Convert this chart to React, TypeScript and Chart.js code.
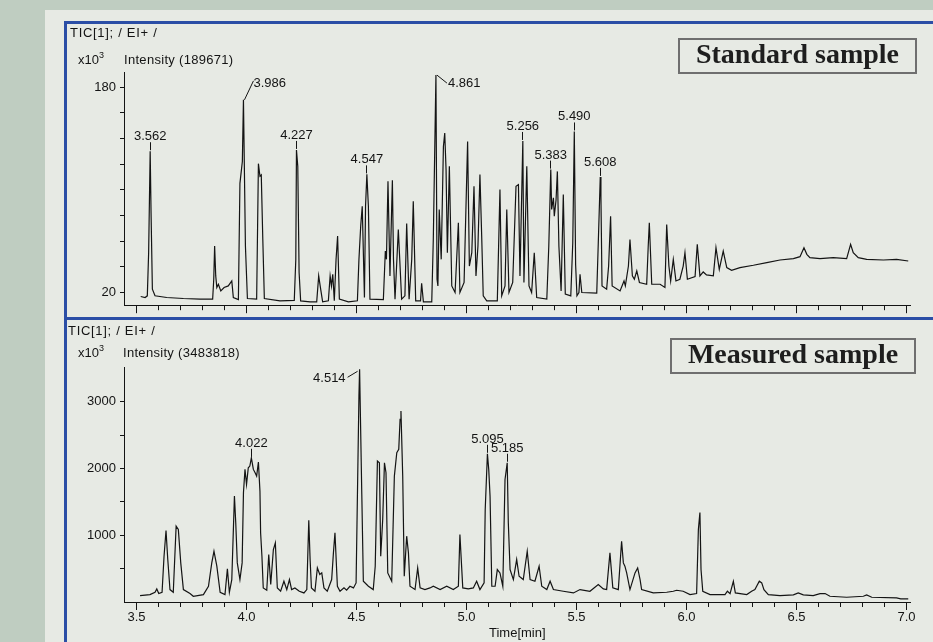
import React, { useEffect, useRef } from "react";
import { Chart, registerables } from "chart.js";

Chart.register(...registerables);

const FONT = '"Liberation Sans", Arial, Helvetica, sans-serif';
const SERIF = '"Liberation Serif", "Times New Roman", serif';
const INK = "#141414";
const BLUE = "#2b4ea6";

// ---- axis ranges and tick labels ----
const timeRange = [3.443, 7.016];
const standardRange = [10.1, 191.7];
const measuredRange = [0, 3520];
const timeTickLabels = [3.5, 4.0, 4.5, 5.0, 5.5, 6.0, 6.5, 7.0];
const standardTickValues = [20, 40, 60, 80, 100, 120, 140, 160, 180];
const standardTickLabels = [20, 180];
const measuredTickValues = [500, 1000, 1500, 2000, 2500, 3000];
const measuredTickLabels = [1000, 2000, 3000];

// ---- Standard sample TIC: [time (min), intensity (x10^3)] ----
const standardTrace: [number, number][] = [
  [3.519, 16.9], [3.539, 16.1], [3.549, 17.4], [3.555, 51], [3.562, 130], [3.566, 82], [3.572, 22.6],
  [3.584, 17.4], [3.637, 16.1], [3.713, 15.3], [3.789, 14.8], [3.846, 14.8], [3.851, 30.3], [3.855, 56.2],
  [3.86, 32.9], [3.865, 23.9], [3.872, 26.4], [3.883, 21.2], [3.898, 23.9], [3.917, 25.1], [3.933, 29],
  [3.94, 16.1], [3.963, 14.5], [3.97, 105], [3.981, 122], [3.986, 170], [3.995, 56], [4.004, 15.3],
  [4.046, 14.8], [4.054, 120.3], [4.061, 110.5], [4.067, 111.5], [4.074, 61.3], [4.081, 15.3], [4.152, 13.5],
  [4.217, 13.8], [4.224, 45.8], [4.227, 131], [4.233, 118.2], [4.239, 35.5], [4.246, 13.5], [4.289, 12.7],
  [4.319, 12.7], [4.328, 32.9], [4.337, 22.6], [4.346, 12.7], [4.372, 13.5], [4.38, 32.9], [4.386, 25.1],
  [4.392, 34.2], [4.399, 13.5], [4.407, 45.8], [4.414, 63.9], [4.422, 14.8], [4.463, 12.7], [4.504, 13.5],
  [4.511, 45.8], [4.519, 71.7], [4.526, 87.2], [4.536, 16.1], [4.541, 87.2], [4.547, 112], [4.554, 87],
  [4.561, 14.8], [4.622, 14.5], [4.631, 52.3], [4.636, 45.8], [4.643, 106.6], [4.652, 32.9], [4.663, 107.4],
  [4.668, 45.8], [4.675, 14.8], [4.69, 69.1], [4.705, 14.8], [4.72, 17.4], [4.728, 73.8], [4.739, 14.8],
  [4.751, 45.8], [4.758, 91], [4.769, 13.5], [4.791, 13.5], [4.796, 27.2], [4.804, 12.7], [4.842, 12.7],
  [4.849, 61.3], [4.861, 189.3], [4.866, 30.3], [4.87, 25.1], [4.876, 84.6], [4.885, 45.8], [4.895, 133.7],
  [4.901, 144.1], [4.907, 115.7], [4.913, 51], [4.922, 118.2], [4.933, 25.1], [4.948, 20], [4.963, 74.3],
  [4.97, 20], [4.989, 27.8], [5.005, 137.6], [5.013, 40.6], [5.024, 51], [5.034, 102.7], [5.043, 32.9],
  [5.052, 56.2], [5.061, 111.8], [5.069, 63.9], [5.076, 17.4], [5.092, 13.5], [5.14, 13.5], [5.152, 100.1],
  [5.16, 17.4], [5.175, 25.1], [5.183, 84.6], [5.193, 20], [5.21, 27.8], [5.225, 102.7], [5.236, 104],
  [5.243, 32.9], [5.256, 138], [5.261, 27.8], [5.274, 118.2], [5.284, 25.1], [5.296, 20], [5.308, 51],
  [5.319, 16.1], [5.365, 14.8], [5.374, 56], [5.383, 115.7], [5.387, 84.6], [5.395, 93.7], [5.399, 79.4],
  [5.407, 92], [5.413, 114.3], [5.42, 56], [5.43, 21.2], [5.44, 96.3], [5.449, 18.7], [5.474, 17.4],
  [5.483, 58.8], [5.49, 145.4], [5.496, 41.6], [5.502, 17.4], [5.511, 20], [5.516, 34.2], [5.524, 20],
  [5.592, 19.5], [5.599, 58.8], [5.608, 110], [5.611, 95], [5.616, 25.1], [5.637, 22.6], [5.646, 40.6],
  [5.655, 79.4], [5.662, 25.1], [5.698, 21.2], [5.716, 29], [5.722, 25.1], [5.736, 40.6], [5.743, 61.3],
  [5.754, 32.9], [5.763, 30.3], [5.774, 36.8], [5.786, 27.8], [5.819, 26.4], [5.826, 56], [5.831, 74.3],
  [5.842, 26.4], [5.88, 26.4], [5.902, 23.9], [5.91, 73], [5.92, 40.6], [5.928, 29], [5.94, 45.8],
  [5.952, 29], [5.97, 30.3], [5.985, 40.6], [5.993, 51], [6.004, 30.3], [6.039, 32.4], [6.049, 57.5],
  [6.061, 32.9], [6.076, 36], [6.091, 33.7], [6.122, 32.9], [6.134, 54.9], [6.149, 38], [6.167, 52.3],
  [6.183, 39.4], [6.205, 37.3], [6.243, 39.4], [6.304, 41.2], [6.365, 43.3], [6.425, 45.3], [6.486, 46.4],
  [6.516, 47.9], [6.534, 54.9], [6.547, 49.7], [6.561, 47.1], [6.607, 46.4], [6.667, 47.1], [6.728, 46.4],
  [6.746, 57.5], [6.758, 51], [6.781, 47.1], [6.819, 45.8], [6.895, 45.3], [6.955, 45.8], [7.008, 44.5],
];

// ---- Measured sample TIC: [time (min), intensity (x10^3)] ----
const measuredTrace: [number, number][] = [
  [3.516, 96], [3.561, 111], [3.584, 146], [3.592, 196], [3.601, 126], [3.616, 146], [3.625, 686],
  [3.634, 1071], [3.642, 636], [3.652, 186], [3.667, 146], [3.68, 1136], [3.69, 1086], [3.701, 586],
  [3.713, 186], [3.743, 126], [3.758, 86], [3.804, 111], [3.827, 236], [3.842, 586], [3.852, 761],
  [3.865, 536], [3.88, 146], [3.902, 111], [3.913, 496], [3.922, 146], [3.933, 336], [3.945, 1586],
  [3.951, 1186], [3.958, 586], [3.97, 336], [3.98, 586], [3.986, 1636], [3.993, 1986], [4.0, 1761],
  [4.008, 2011], [4.015, 2036], [4.022, 2160], [4.031, 1986], [4.039, 1936], [4.046, 1886], [4.054, 2096],
  [4.061, 1661], [4.064, 1036], [4.07, 686], [4.076, 211], [4.092, 176], [4.101, 711], [4.11, 261],
  [4.122, 786], [4.131, 886], [4.14, 211], [4.155, 161], [4.17, 311], [4.183, 186], [4.195, 336],
  [4.205, 186], [4.22, 211], [4.24, 161], [4.261, 136], [4.274, 186], [4.283, 1226], [4.289, 636],
  [4.295, 211], [4.311, 161], [4.322, 511], [4.333, 411], [4.342, 436], [4.352, 211], [4.367, 161],
  [4.387, 336], [4.395, 736], [4.402, 1036], [4.413, 236], [4.425, 161], [4.443, 211], [4.455, 176],
  [4.47, 236], [4.486, 211], [4.498, 286], [4.511, 3086], [4.514, 3486], [4.524, 1611], [4.531, 311],
  [4.554, 236], [4.576, 186], [4.585, 536], [4.595, 2111], [4.604, 2086], [4.61, 686], [4.619, 1236],
  [4.627, 2086], [4.634, 1936], [4.642, 436], [4.66, 311], [4.672, 1886], [4.683, 2236], [4.692, 2286],
  [4.698, 2736], [4.702, 2861], [4.71, 1886], [4.717, 386], [4.728, 986], [4.736, 736], [4.743, 236],
  [4.766, 186], [4.778, 511], [4.789, 211], [4.811, 186], [4.834, 211], [4.849, 236], [4.88, 186],
  [4.91, 236], [4.94, 186], [4.963, 236], [4.97, 1011], [4.983, 211], [5.008, 196], [5.031, 211],
  [5.046, 311], [5.061, 186], [5.08, 286], [5.085, 1386], [5.095, 2220], [5.101, 1986], [5.107, 1586],
  [5.115, 236], [5.13, 236], [5.14, 486], [5.152, 436], [5.165, 236], [5.175, 1836], [5.185, 2086],
  [5.19, 1186], [5.198, 486], [5.213, 336], [5.228, 636], [5.239, 386], [5.258, 336], [5.276, 761],
  [5.289, 336], [5.311, 311], [5.33, 536], [5.342, 236], [5.365, 186], [5.38, 311], [5.395, 186],
  [5.44, 161], [5.486, 136], [5.516, 186], [5.561, 161], [5.599, 261], [5.622, 196], [5.637, 186],
  [5.652, 736], [5.665, 211], [5.69, 186], [5.705, 911], [5.713, 586], [5.72, 536], [5.728, 436],
  [5.743, 186], [5.766, 436], [5.778, 511], [5.789, 336], [5.796, 186], [5.849, 136], [5.91, 146],
  [5.94, 161], [5.955, 176], [5.985, 161], [6.016, 111], [6.046, 126], [6.054, 1086], [6.061, 1341],
  [6.066, 486], [6.074, 161], [6.107, 111], [6.175, 111], [6.186, 161], [6.198, 126], [6.213, 311],
  [6.222, 136], [6.274, 111], [6.296, 161], [6.311, 186], [6.331, 311], [6.342, 286], [6.352, 186],
  [6.372, 111], [6.425, 96], [6.486, 106], [6.508, 136], [6.531, 106], [6.576, 96], [6.607, 126],
  [6.63, 126], [6.652, 86], [6.728, 71], [6.804, 86], [6.819, 106], [6.842, 71], [6.955, 61],
  [6.974, 46], [7.008, 46],
];

// ---- labelled peaks (retention times) ----
const standardPeaks = ["3.562", "3.986", "4.227", "4.547", "4.861", "5.256", "5.383", "5.490", "5.608"];
const measuredPeaks = ["4.022", "4.514", "5.095", "5.185"];

// label placement style (where the text sits relative to the apex)
const labelPlacement: Record<string, "up" | "upRight" | "downRight" | "downLeft"> = {
  "3.986": "upRight",
  "4.861": "downRight",
  "4.514": "downLeft",
};

const align = (p: number) => Math.round(p - 0.5) + 0.5;

const majorTickPlugin = {
  id: "majorTicks",
  afterDraw(chart: any) {
    const xs = chart.scales.x;
    const ctx = chart.ctx;
    ctx.save();
    ctx.strokeStyle = INK;
    ctx.lineWidth = 1;
    ctx.beginPath();
    for (const tk of xs.ticks) {
      const v = tk.value;
      if (Math.abs(v * 2 - Math.round(v * 2)) < 1e-6) {
        const px = align(xs.getPixelForValue(v));
        ctx.moveTo(px, xs.top + 4);
        ctx.lineTo(px, xs.top + 8);
      }
    }
    ctx.stroke();
    ctx.restore();
  },
};

const peakLabelPlugin = {
  id: "peakLabels",
  afterDatasetsDraw(chart: any, _args: any, opts: any) {
    const ctx = chart.ctx;
    const xs = chart.scales.x;
    const ys = chart.scales.y;
    const pts = chart.data.datasets[0].data as { x: number; y: number }[];
    ctx.save();
    ctx.font = `13px ${FONT}`;
    ctx.fillStyle = INK;
    ctx.strokeStyle = INK;
    ctx.lineWidth = 1;
    ctx.textBaseline = "alphabetic";
    for (const label of (opts.labels || []) as string[]) {
      const t = parseFloat(label);
      let apex = pts[0];
      for (const p of pts) if (Math.abs(p.x - t) < Math.abs(apex.x - t)) apex = p;
      const px = xs.getPixelForValue(apex.x);
      const py = ys.getPixelForValue(apex.y);
      const mode = labelPlacement[label] || "up";
      ctx.beginPath();
      if (mode === "up") {
        const lx = align(px);
        ctx.moveTo(lx, py - 1);
        ctx.lineTo(lx, py - 9);
        ctx.stroke();
        ctx.textAlign = "center";
        ctx.fillText(label, px, py - 11);
      } else if (mode === "upRight") {
        ctx.moveTo(px + 1, py);
        ctx.lineTo(px + 10, py - 19);
        ctx.stroke();
        ctx.textAlign = "left";
        ctx.fillText(label, px + 10, py - 13);
      } else if (mode === "downRight") {
        ctx.moveTo(px + 1, py);
        ctx.lineTo(px + 11, py + 8);
        ctx.stroke();
        ctx.textAlign = "left";
        ctx.fillText(label, px + 12, py + 12);
      } else {
        ctx.moveTo(px - 2, py + 2);
        ctx.lineTo(px - 12, py + 8);
        ctx.stroke();
        ctx.textAlign = "right";
        ctx.fillText(label, px - 14, py + 13);
      }
    }
    ctx.restore();
  },
};

type PanelProps = {
  trace: [number, number][];
  range: number[];
  yTicks: number[];
  yLabels: number[];
  peaks: string[];
  showTimeLabels: boolean;
  padTop: number;
  axisHeight: number;
  left: number;
  top: number;
  width: number;
  height: number;
};

function Panel(p: PanelProps) {
  const ref = useRef<HTMLCanvasElement>(null);
  useEffect(() => {
    if (!ref.current) return;
    const chart = new Chart(ref.current, {
      type: "line",
      data: {
        datasets: [
          {
            data: p.trace.map(([t, v]) => ({ x: t, y: v })),
            borderColor: INK,
            borderWidth: 1.2,
            pointRadius: 0,
            tension: 0,
            fill: false,
          },
        ],
      },
      options: {
        responsive: false,
        animation: false,
        devicePixelRatio: 1,
        events: [],
        layout: { padding: { left: 0, right: 23, top: p.padTop, bottom: 0 } },
        plugins: {
          legend: { display: false },
          tooltip: { enabled: false },
          peakLabels: { labels: p.peaks },
        } as any,
        scales: {
          x: {
            type: "linear",
            min: timeRange[0],
            max: timeRange[1],
            afterFit: (s: any) => {
              s.height = p.axisHeight;
            },
            border: { display: true, color: INK, width: 1 },
            grid: { drawOnChartArea: false, drawTicks: true, tickLength: 5, tickColor: INK, tickWidth: 1 },
            ticks: {
              stepSize: 0.1,
              includeBounds: false,
              autoSkip: false,
              maxRotation: 0,
              padding: 3,
              color: INK,
              font: { family: FONT, size: 13 },
              callback: (v: any) =>
                p.showTimeLabels && timeTickLabels.some((l) => Math.abs(l - Number(v)) < 1e-6)
                  ? Number(v).toFixed(1)
                  : "",
            },
          },
          y: {
            type: "linear",
            min: p.range[0],
            max: p.range[1],
            afterFit: (s: any) => {
              s.width = 57;
            },
            afterBuildTicks: (s: any) => {
              s.ticks = p.yTicks.map((v) => ({ value: v }));
            },
            border: { display: true, color: INK, width: 1 },
            grid: { drawOnChartArea: false, drawTicks: true, tickLength: 4, tickColor: INK, tickWidth: 1 },
            ticks: {
              autoSkip: false,
              padding: 4,
              color: INK,
              font: { family: FONT, size: 13 },
              callback: (v: any) => (p.yLabels.some((l) => Math.abs(l - Number(v)) < 1e-6) ? String(v) : ""),
            },
          },
        },
      } as any,
      plugins: [majorTickPlugin, peakLabelPlugin],
    });
    return () => chart.destroy();
  }, []);
  return (
    <canvas
      ref={ref}
      width={p.width}
      height={p.height}
      style={{ position: "absolute", left: p.left, top: p.top, width: p.width, height: p.height }}
    />
  );
}

const smallText: React.CSSProperties = {
  position: "absolute",
  font: `13px ${FONT}`,
  lineHeight: "15px",
  color: INK,
  whiteSpace: "nowrap",
};

const boxText: React.CSSProperties = {
  position: "absolute",
  height: 36,
  boxSizing: "border-box",
  border: "2px solid #6f6f6f",
  font: `bold 28px ${SERIF}`,
  lineHeight: "28px",
  textAlign: "center",
  color: "#1e1e1e",
  whiteSpace: "nowrap",
};

export default function App() {
  return (
    <div
      style={{
        position: "absolute",
        left: 0,
        top: 0,
        width: 933,
        height: 642,
        overflow: "hidden",
        background: "#bfcdc1",
      }}
    >
      <div style={{ position: "absolute", left: 45, top: 10, right: 0, bottom: 0, background: "#e7eae4" }} />
      <div style={{ position: "absolute", left: 64, top: 21, width: 869, height: 3, background: BLUE }} />
      <div style={{ position: "absolute", left: 64, top: 21, width: 3, height: 621, background: BLUE }} />
      <div style={{ position: "absolute", left: 64, top: 317, width: 869, height: 3, background: BLUE }} />

      <Panel
        trace={standardTrace}
        range={standardRange}
        yTicks={standardTickValues}
        yLabels={standardTickLabels}
        peaks={standardPeaks}
        showTimeLabels={false}
        padTop={48}
        axisHeight={11}
        left={67}
        top={24}
        width={866}
        height={293}
      />
      <Panel
        trace={measuredTrace}
        range={measuredRange}
        yTicks={measuredTickValues}
        yLabels={measuredTickLabels}
        peaks={measuredPeaks}
        showTimeLabels={true}
        padTop={47}
        axisHeight={40}
        left={67}
        top={320}
        width={866}
        height={322}
      />

      <div style={{ ...smallText, left: 70, top: 25, letterSpacing: "0.7px" }}>TIC[1]; / EI+ /</div>
      <div style={{ ...smallText, left: 78, top: 52 }}>
        x10<sup style={{ fontSize: 9, verticalAlign: "6px", lineHeight: 0 }}>3</sup>
      </div>
      <div style={{ ...smallText, left: 124, top: 52, letterSpacing: "0.3px" }}>Intensity (189671)</div>

      <div style={{ ...smallText, left: 68, top: 323, letterSpacing: "0.7px" }}>TIC[1]; / EI+ /</div>
      <div style={{ ...smallText, left: 78, top: 345 }}>
        x10<sup style={{ fontSize: 9, verticalAlign: "6px", lineHeight: 0 }}>3</sup>
      </div>
      <div style={{ ...smallText, left: 123, top: 345, letterSpacing: "0.3px" }}>Intensity (3483818)</div>
      <div style={{ ...smallText, left: 489, top: 625 }}>Time[min]</div>

      <div style={{ ...boxText, left: 678, top: 38, width: 239 }}>Standard sample</div>
      <div style={{ ...boxText, left: 670, top: 338, width: 246 }}>Measured sample</div>
    </div>
  );
}
